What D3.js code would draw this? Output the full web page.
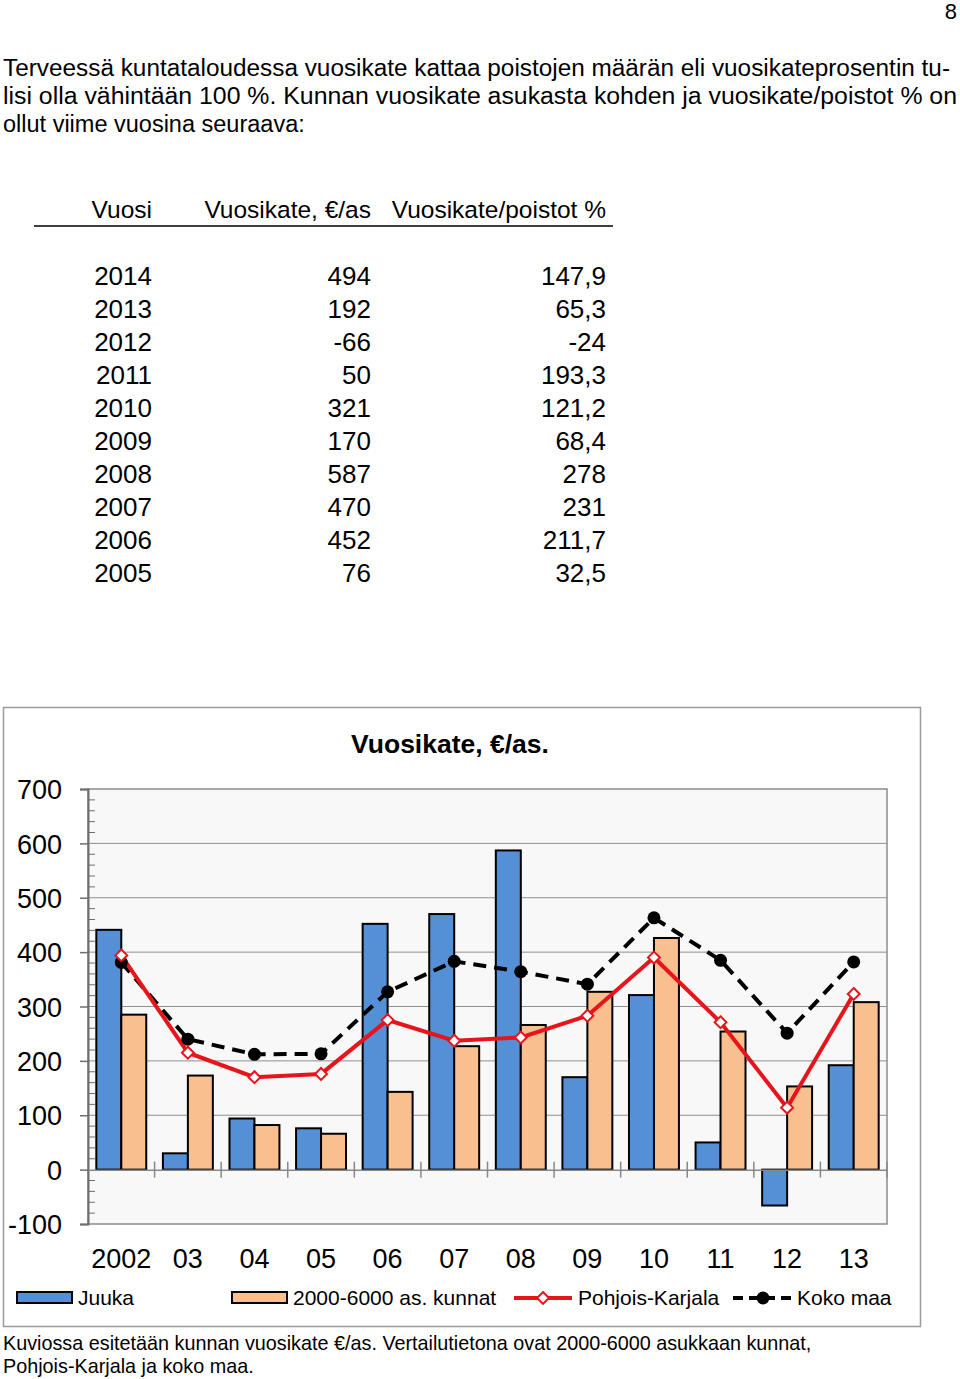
<!DOCTYPE html>
<html><head><meta charset="utf-8">
<script src="https://cdn.jsdelivr.net/npm/d3@7"></script>
<style>body{margin:0;background:#fff}svg{display:block}</style>
</head><body>
<svg id="c" width="960" height="1379"></svg>
<script>
// ---- data ----
const paragraph = [
  "Terveessä kuntataloudessa vuosikate kattaa poistojen määrän eli vuosikateprosentin tu-",
  "lisi olla vähintään 100 %. Kunnan vuosikate asukasta kohden ja vuosikate/poistot % on",
  "ollut viime vuosina seuraava:"
];
const tableHeaders = ["Vuosi", "Vuosikate, €/as", "Vuosikate/poistot %"];
const tableYears = ["2014","2013","2012","2011","2010","2009","2008","2007","2006","2005"];
const tableVuosikate = ["494","192","-66","50","321","170","587","470","452","76"];
const tablePoistot = ["147,9","65,3","-24","193,3","121,2","68,4","278","231","211,7","32,5"];

const categories = ["2002","03","04","05","06","07","08","09","10","11","12","13"];
const juuka = [441, 30, 94, 76, 452, 470, 587, 170, 321, 50, -66, 192];
const kunnat = [285, 173, 82, 66, 143, 227, 266, 327, 426, 254, 153, 308];
const pohjoisKarjala = [394, 215, 170, 176, 275, 237, 243, 283, 390, 271, 114, 323];
const kokoMaa = [381, 240, 212, 213, 327, 383, 364, 341, 463, 385, 251, 382];
const yTicks = [-100, 0, 100, 200, 300, 400, 500, 600, 700];
const seriesNames = ["Juuka", "2000-6000 as. kunnat", "Pohjois-Karjala", "Koko maa"];
const chartTitle = "Vuosikate, €/as.";
const caption = [
  "Kuviossa esitetään kunnan vuosikate €/as. Vertailutietona ovat 2000-6000 asukkaan kunnat,",
  "Pohjois-Karjala ja koko maa."
];

// ---- drawing ----
const svg = d3.select("#c");
const FONT = "'Liberation Sans', Arial, sans-serif";

svg.append("text").attr("x", 957).attr("y", 19).attr("text-anchor","end")
  .attr("font-family", FONT).attr("font-size", 22).text("8");

const pw = [947, 954, null];
paragraph.forEach((t,i) => {
  const tx = svg.append("text").attr("x", 3).attr("y", 76 + i*28)
    .attr("font-family", FONT).attr("font-size", 23.5).text(t);
  if (pw[i]) tx.attr("textLength", pw[i]).attr("lengthAdjust", "spacingAndGlyphs");
});

// table
const tcol = [{x:152, a:"end"}, {x:371, a:"end"}, {x:606, a:"end"}];
tableHeaders.forEach((h,i) => {
  svg.append("text").attr("x", tcol[i].x).attr("y", 218).attr("text-anchor", tcol[i].a)
    .attr("font-family", FONT).attr("font-size", 24.5).text(h);
});
svg.append("line").attr("x1", 34).attr("x2", 613).attr("y1", 226).attr("y2", 226)
  .attr("stroke", "#000").attr("stroke-width", 1.5);
[tableYears, tableVuosikate, tablePoistot].forEach((col, ci) => {
  col.forEach((v, ri) => {
    svg.append("text").attr("x", tcol[ci].x).attr("y", 285 + ri*33)
      .attr("text-anchor", "end").attr("font-family", FONT).attr("font-size", 26).text(v);
  });
});

// chart frame
svg.append("rect").attr("x", 3.5).attr("y", 707.5).attr("width", 917).attr("height", 619)
  .attr("fill", "#fff").attr("stroke", "#9a9a9a").attr("stroke-width", 1.5);

const L = 88, R = 887, T = 789, B = 1224;
const x = d3.scaleBand().domain(categories).range([L, R]).paddingInner(0).paddingOuter(0);
const y = d3.scaleLinear().domain([-100, 700]).range([B, T]);

svg.append("rect").attr("x", L).attr("y", T).attr("width", R-L).attr("height", B-T)
  .attr("fill", "#f8f8f8").attr("stroke", "#8c8c8c").attr("stroke-width", 1.5);

// grid lines
svg.append("g").selectAll("line").data(yTicks.filter(d => d !== -100 && d !== 700 && d !== 0))
  .join("line").attr("x1", L).attr("x2", R).attr("y1", d => y(d)).attr("y2", d => y(d))
  .attr("stroke", "#8f8f8f").attr("stroke-width", 1);

// y axis
const yAxis = d3.axisLeft(y).tickValues(yTicks).tickSize(8).tickFormat(d => String(d));
const gy = svg.append("g").attr("transform", `translate(${L},0)`).call(yAxis);
gy.select(".domain").attr("stroke", "#6e6e6e").attr("stroke-width", 2);
gy.selectAll(".tick line").attr("stroke", "#6e6e6e").attr("stroke-width", 1.5);
gy.selectAll(".tick text").attr("font-family", FONT).attr("font-size", 27).attr("fill", "#000")
  .attr("x", -26).attr("dy", "0.36em");
// minor ticks
const minor = d3.range(-100, 701, 20).filter(v => v % 100 !== 0);
svg.append("g").selectAll("line").data(minor).join("line")
  .attr("x1", L).attr("x2", L+7).attr("y1", d => y(d)).attr("y2", d => y(d))
  .attr("stroke", "#6e6e6e").attr("stroke-width", 1);

// bars
const bw = x.bandwidth() * 0.375;
const off = x.bandwidth() * 0.125;
const bars = svg.append("g");
bars.selectAll(".j").data(juuka).join("rect")
  .attr("x", (d,i) => x(categories[i]) + off)
  .attr("y", d => y(Math.max(0,d))).attr("width", bw)
  .attr("height", d => Math.abs(y(d) - y(0)))
  .attr("fill", "#5590d6").attr("stroke", "#000").attr("stroke-width", 2);
bars.selectAll(".k").data(kunnat).join("rect")
  .attr("x", (d,i) => x(categories[i]) + off + bw)
  .attr("y", d => y(Math.max(0,d))).attr("width", bw)
  .attr("height", d => Math.abs(y(d) - y(0)))
  .attr("fill", "#fabf8f").attr("stroke", "#000").attr("stroke-width", 2);

// x axis at zero
const xAxis = d3.axisBottom(x).tickSize(0).tickFormat(() => "");
const gx = svg.append("g").attr("transform", `translate(0,${y(0)})`).call(xAxis);
gx.select(".domain").attr("stroke", "#888").attr("stroke-width", 1.5);
svg.append("g").selectAll("line").data(categories.slice(1).concat(["end"])).join("line")
  .attr("x1", (d,i) => i < categories.length-1 ? x(d) : R)
  .attr("x2", (d,i) => i < categories.length-1 ? x(d) : R)
  .attr("y1", y(0) - 8).attr("y2", y(0) + 8)
  .attr("stroke", "#888").attr("stroke-width", 1.5);
// category labels
svg.append("g").selectAll("text").data(categories).join("text")
  .attr("x", d => x(d) + x.bandwidth()/2).attr("y", 1268)
  .attr("text-anchor", "middle").attr("font-family", FONT).attr("font-size", 27).text(d => d);

// lines
const cx = i => x(categories[i]) + x.bandwidth()/2;
const line = d3.line().x((d,i) => cx(i)).y(d => y(d));
svg.append("path").datum(kokoMaa).attr("d", line).attr("fill", "none")
  .attr("stroke", "#000").attr("stroke-width", 4).attr("stroke-dasharray", "13,8");
svg.append("path").datum(pohjoisKarjala).attr("d", line).attr("fill", "none")
  .attr("stroke", "#e8141b").attr("stroke-width", 4);
svg.append("g").selectAll("circle").data(kokoMaa).join("circle")
  .attr("cx", (d,i) => cx(i)).attr("cy", d => y(d)).attr("r", 6.5).attr("fill", "#000");
const diamond = d3.symbol().type(d3.symbolDiamond2).size(90);
svg.append("g").selectAll("path").data(pohjoisKarjala).join("path")
  .attr("d", diamond).attr("transform", (d,i) => `translate(${cx(i)},${y(d)})`)
  .attr("fill", "#fff").attr("stroke", "#e8141b").attr("stroke-width", 2);

// title
svg.append("text").attr("x", 450).attr("y", 753).attr("text-anchor", "middle")
  .attr("font-family", FONT).attr("font-weight", "bold").attr("font-size", 26.5).text(chartTitle);

// legend
const ly = 1298;
const lg = svg.append("g").attr("font-family", FONT).attr("font-size", 21);
lg.append("rect").attr("x", 17).attr("y", ly-6).attr("width", 55).attr("height", 11)
  .attr("fill", "#5590d6").attr("stroke", "#000").attr("stroke-width", 2);
lg.append("text").attr("x", 78).attr("y", ly+7).text(seriesNames[0]);
lg.append("rect").attr("x", 232).attr("y", ly-6).attr("width", 55).attr("height", 11)
  .attr("fill", "#fabf8f").attr("stroke", "#000").attr("stroke-width", 2);
lg.append("text").attr("x", 293).attr("y", ly+7).text(seriesNames[1]);
lg.append("line").attr("x1", 514).attr("x2", 572).attr("y1", ly).attr("y2", ly)
  .attr("stroke", "#e8141b").attr("stroke-width", 4);
lg.append("path").attr("d", diamond).attr("transform", `translate(543,${ly})`)
  .attr("fill", "#fff").attr("stroke", "#e8141b").attr("stroke-width", 2);
lg.append("text").attr("x", 578).attr("y", ly+7).text(seriesNames[2]);
lg.append("line").attr("x1", 733).attr("x2", 792).attr("y1", ly).attr("y2", ly)
  .attr("stroke", "#000").attr("stroke-width", 4).attr("stroke-dasharray", "10,6");
lg.append("circle").attr("cx", 763).attr("cy", ly).attr("r", 6.5).attr("fill", "#000");
lg.append("text").attr("x", 797).attr("y", ly+7).text(seriesNames[3]);

// caption
caption.forEach((t,i) => {
  svg.append("text").attr("x", 3).attr("y", 1350 + i*23)
    .attr("font-family", FONT).attr("font-size", 19.8).text(t);
});
</script>
</body></html>
